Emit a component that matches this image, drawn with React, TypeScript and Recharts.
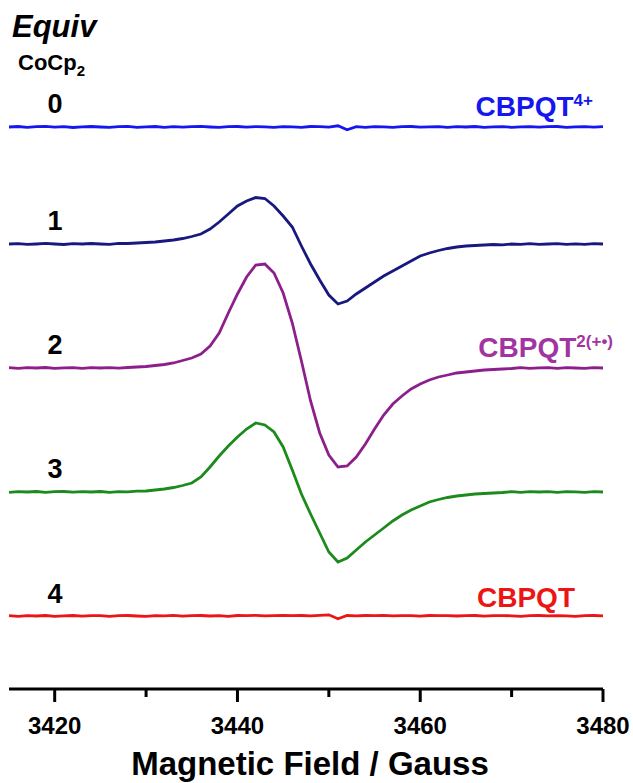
import { Line, LineChart, XAxis, YAxis } from 'recharts';

// magnetic field grid, Gauss
const fields = [
  3415, 3416, 3417, 3418, 3419, 3420, 3421, 3422, 3423, 3424,
  3425, 3426, 3427, 3428, 3429, 3430, 3431, 3432, 3433, 3434,
  3435, 3436, 3437, 3438, 3439, 3440, 3441, 3442, 3443, 3444,
  3445, 3446, 3447, 3448, 3449, 3450, 3451, 3452, 3453, 3454,
  3455, 3456, 3457, 3458, 3459, 3460, 3461, 3462, 3463, 3464,
  3465, 3466, 3467, 3468, 3469, 3470, 3471, 3472, 3473, 3474,
  3475, 3476, 3477, 3478, 3479, 3480,
];

// 0 equiv CoCp2 (CBPQT4+)
const equiv0 = [
  0, 0.5, -0.3, 0.3, 0.6, -0.2, 0.4, -0.5, 0.2, 0.5,
  0, -0.4, 0.3, 0.7, -0.3, 0.2, 0.5, -0.3, 0.3, -0.2,
  0.4, 0.6, 0, -0.4, 0.3, 0.5, -0.2, 0.4, 0.1, -0.3,
  0.4, 0.2, -0.3, 0.5, 0.3, -0.2, 1.2, -2.8, 0.4, -0.3,
  0.4, 0.2, -0.4, 0.3, 0.5, -0.2, 0.1, 0.4, -0.3, 0.3,
  0, 0.5, -0.3, 0.2, 0.4, -0.3, 0.1, 0.4, -0.2, 0.3,
  0.5, -0.3, 0.2, 0.4, -0.1, 0.3,
];

const equiv1 = [
  0, 0.4, -0.4, 0, 0.6, 0, -0.5, 0.3, 0, 0.5,
  0, -0.3, 0.6, 0.5, 1, 1.5, 2, 3, 4, 5.5,
  7.5, 10, 15, 22, 30, 38, 43, 46.5, 45.5, 38,
  28, 17, -2, -20, -36, -51, -60, -57, -50, -44,
  -38, -32, -27, -22, -17, -12, -9, -6.5, -4.5, -3,
  -2, -1.5, -1, -0.5, -0.8, 0, -0.4, 0.3, -0.4, 0,
  0.3, -0.3, 0.2, -0.3, 0.3, 0,
];

// 2 equiv (CBPQT2(+•))
const equiv2 = [
  0.3, -0.4, 0.3, 0, 0.5, -0.3, 0.2, 0.4, -0.3, 0.3,
  0, 0.4, -0.2, 0.5, 1, 1.5, 2.5, 3.5, 5, 7.5,
  10, 14, 22, 35, 55, 74, 91, 103, 104, 95,
  75, 45, 7, -33, -65, -87, -99, -98, -89, -76,
  -61, -47, -36, -28, -21, -16, -12, -9, -7, -5,
  -4, -3, -2, -1.5, -1, -0.5, 0.3, -0.4, 0.2, 0.4,
  -0.3, 0.3, 0, -0.4, 0.3, 0,
];

const equiv3 = [
  -0.3, 0.4, 0, 0.5, -0.3, 0.3, 0.5, -0.2, 0.4, 0,
  0.5, -0.3, 0.4, 0.2, 0.8, 1, 2, 3, 4.5, 6.5,
  9, 15, 25, 36, 46, 55, 63, 69, 67, 60,
  45, 22, -2, -22, -41, -60, -70, -66, -58, -50,
  -43, -36, -29, -23, -18, -14, -10, -7.5, -5.5, -4,
  -3, -2, -1.5, -1, -0.5, 0.3, -0.4, 0.4, 0, 0.4,
  -0.3, 0.4, 0.1, -0.3, 0.3, 0,
];

// 4 equiv (CBPQT)
const equiv4 = [
  0.4, -0.3, 0.4, 0, 0.5, -0.3, 0.2, 0.5, -0.2, 0.3,
  0.4, -0.3, 0.3, 0.5, 0, -0.3, 0.4, 0.2, 0.6, -0.2,
  0.4, 0.5, 0, 0.4, -0.3, 0.5, 0.3, 0.6, 0.2, 0.4,
  0.7, 0.3, 0.5, 0.2, 0.6, 1.2, -2.8, 0.5, 0.2, 0.5,
  0.3, 0.6, 0.1, 0.4, 0.4, -0.2, 0.5, 0.3, 0.4, 0,
  0.4, 0.5, -0.1, 0.3, 0.4, 0.2, -0.3, 0.4, 0.5, 0.1,
  0.4, 0.2, -0.3, 0.4, 0.5, 0.2,
];

// vertical stacking offsets for each trace
const offsets = [562, 445, 321, 197, 73];
const spectra = [equiv0, equiv1, equiv2, equiv3, equiv4];
const colors = ['#1616ee', '#18187e', '#8c1f8c', '#1c8a1c', '#ec1515'];
const equivLabels = ['0', '1', '2', '3', '4'];
const labelTops = [91, 208, 332, 456, 581];

const majorTicks = [3420, 3440, 3460, 3480];
const allTicks = [3420, 3430, 3440, 3450, 3460, 3470, 3480];

const data = fields.map((field, i) => {
  const row: Record<string, number> = { field };
  spectra.forEach((s, k) => {
    row[`s${k}`] = offsets[k] + s[i];
  });
  return row;
});

const font = '"Liberation Sans", Arial, Helvetica, sans-serif';

const FieldTick = (props: any) => {
  const { x, y, payload } = props;
  const major = majorTicks.includes(payload.value);
  return (
    <g>
      <line x1={x} x2={x} y1={y} y2={y + (major ? 13 : 8)} stroke="#000" strokeWidth={3} />
      {major && (
        <text x={x} y={y + 45} textAnchor="middle" fontFamily={font} fontWeight="bold" fontSize={24} fill="#000">
          {payload.value}
        </text>
      )}
    </g>
  );
};

const txt = (extra: React.CSSProperties): React.CSSProperties => ({
  position: 'absolute',
  fontFamily: font,
  fontWeight: 'bold',
  lineHeight: 1,
  whiteSpace: 'nowrap',
  ...extra,
});

export default function App() {
  return (
    <div style={{ position: 'absolute', left: 0, top: 0, width: 633, height: 783, background: '#fff' }}>
      <LineChart width={633} height={783} data={data} margin={{ top: 80, right: 30, bottom: 0, left: 9 }}>
        <XAxis
          dataKey="field"
          type="number"
          domain={[3415, 3480]}
          ticks={allTicks}
          height={94}
          tickSize={0}
          tickMargin={0}
          tickLine={false}
          axisLine={{ stroke: '#000', strokeWidth: 3 }}
          tick={<FieldTick />}
        />
        <YAxis hide domain={[0, 609]} />
        {spectra.map((_, k) => (
          <Line
            key={k}
            dataKey={`s${k}`}
            type="linear"
            stroke={colors[k]}
            strokeWidth={2.8}
            dot={false}
            isAnimationActive={false}
          />
        ))}
      </LineChart>

      <div style={txt({ left: 12, top: 11, fontSize: 31, fontStyle: 'italic' })}>Equiv</div>
      <div style={txt({ left: 18, top: 52, fontSize: 22 })}>
        CoCp<span style={{ fontSize: 15, position: 'relative', top: 6 }}>2</span>
      </div>
      {equivLabels.map((l, k) => (
        <div key={l} style={txt({ left: 35, width: 40, textAlign: 'center', top: labelTops[k], fontSize: 27 })}>
          {l}
        </div>
      ))}

      <div style={txt({ right: 40, top: 93, fontSize: 28, color: colors[0] })}>
        CBPQT<span style={{ fontSize: 17, position: 'relative', top: -10 }}>4+</span>
      </div>
      <div style={txt({ right: 20, top: 334, fontSize: 28, color: '#a134a1' })}>
        CBPQT<span style={{ fontSize: 17, position: 'relative', top: -10 }}>2(+•)</span>
      </div>
      <div style={txt({ right: 58, top: 584, fontSize: 28, color: colors[4] })}>CBPQT</div>

      <div style={txt({ left: 0, width: 620, textAlign: 'center', top: 747, fontSize: 33 })}>
        Magnetic Field / Gauss
      </div>
    </div>
  );
}
